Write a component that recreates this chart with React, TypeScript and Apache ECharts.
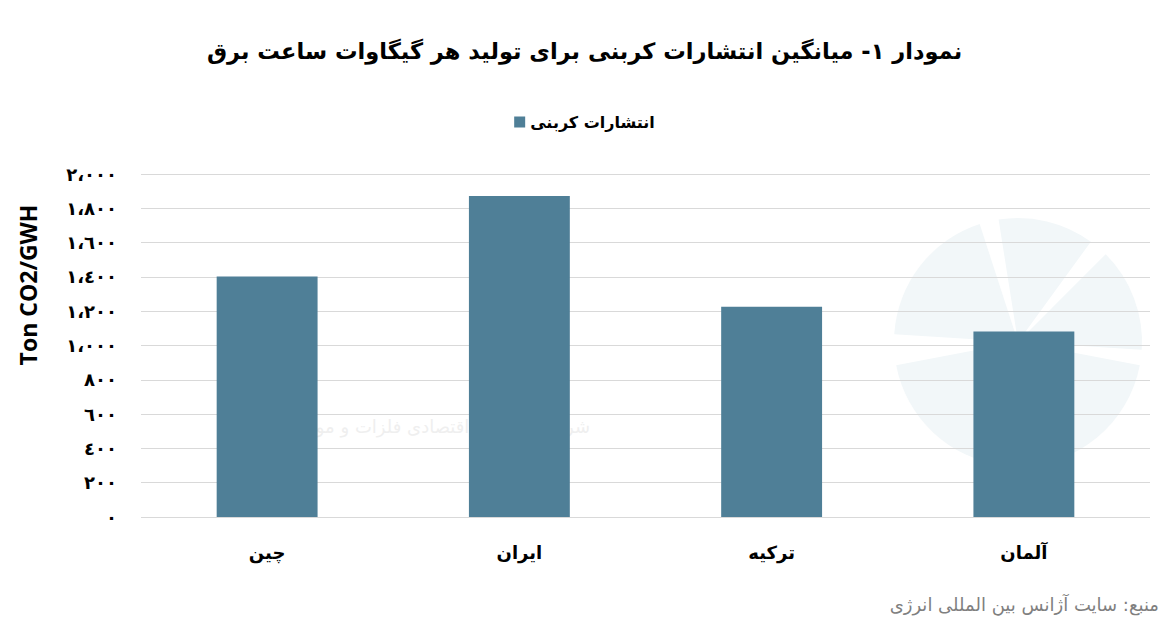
import React, { useEffect, useRef } from "react";
import * as echarts from "echarts";

const categories = ["چین", "ایران", "ترکیه", "آلمان"];
const seriesName = "انتشارات کربنی";
const values = [1403, 1872, 1226, 1082];
const titleText = "نمودار ۱- میانگین انتشارات کربنی برای تولید هر گیگاوات ساعت برق";
const yAxisTitle = "Ton CO2/GWH";
const sourceText = "منبع: سایت آژانس بین المللی انرژی";
const watermarkText = "شرکت مشاوره اقتصادی فلزات و مواد آرمان";

const arabicDigits = "٠١٢٣٤٥٦٧٨٩";
function toArabic(v: number): string {
  const s = Math.round(v).toString().replace(/\B(?=(\d{3})+(?!\d))/g, "،");
  return s.replace(/\d/g, (d) => arabicDigits[Number(d)]);
}

const FA = "DejaVu Sans";

export default function App() {
  const ref = useRef<HTMLDivElement>(null);
  useEffect(() => {
    if (!ref.current) return;
    const chart = echarts.init(ref.current, null, { renderer: "svg" });
    const wmColor = "#f2f7f9";
    const cx = 1018;
    const cy = 342;
    const R = 124;
    const sec = (a: number, b: number) => ({
      type: "sector",
      shape: { cx, cy, r0: 0, r: R, startAngle: a * Math.PI, endAngle: b * Math.PI },
      style: { fill: wmColor },
    });
    chart.setOption({
      animation: false,
      title: {
        text: titleText,
        left: "center",
        top: 34,
        textStyle: { fontFamily: FA, fontWeight: "bold", fontSize: 22.5, color: "#000" },
      },
      legend: {
        data: [seriesName],
        top: 109,
        left: "center",
        icon: "rect",
        itemWidth: 11,
        itemHeight: 11,
        itemGap: 6,
        textStyle: { fontFamily: FA, fontWeight: "bold", fontSize: 16, color: "#000" },
      },
      grid: { left: 141, right: 19, top: 174, bottom: 112, containLabel: false },
      xAxis: {
        type: "category",
        data: categories,
        axisLine: { show: false },
        axisTick: { show: false },
        axisLabel: {
          margin: 26,
          fontFamily: FA,
          fontWeight: "bold",
          fontSize: 18,
          color: "#000",
        },
      },
      yAxis: {
        type: "value",
        min: 0,
        max: 2000,
        interval: 200,
        axisLine: { show: false },
        axisTick: { show: false },
        splitLine: { lineStyle: { color: "#d9d9d9", width: 1 } },
        axisLabel: {
          margin: 24,
          fontFamily: FA,
          fontWeight: "bold",
          fontSize: 18,
          color: "#000",
          formatter: (v: number) => toArabic(v),
        },
      },
      graphic: [
        {
          type: "group",
          z: -10,
          silent: true,
          children: [
            sec(-0.98, -0.6),
            sec(-0.55, -0.3),
            sec(-0.25, 0.02),
            sec(0.06, 0.5),
            sec(0.54, 0.94),
          ],
        },
        {
          type: "text",
          z: -10,
          silent: true,
          x: 590,
          y: 426,
          style: {
            text: watermarkText,
            fontFamily: FA,
            fontSize: 18,
            fill: "#efefef",
            align: "right",
            verticalAlign: "middle",
          },
        },
        {
          type: "text",
          x: 28,
          y: 285,
          rotation: Math.PI / 2,
          style: {
            text: yAxisTitle,
            fontFamily: "Open Sans",
            fontWeight: "bold",
            fontSize: 23,
            fill: "#000",
            align: "center",
            verticalAlign: "middle",
          },
        },
        {
          type: "text",
          x: 1159,
          y: 604,
          style: {
            text: sourceText,
            fontFamily: FA,
            fontSize: 18,
            fill: "#7f7f7f",
            align: "right",
            verticalAlign: "middle",
          },
        },
      ],
      series: [
        {
          name: seriesName,
          type: "bar",
          data: values,
          barCategoryGap: "60%",
          itemStyle: { color: "#4f7f97" },
        },
      ],
    });
    return () => chart.dispose();
  }, []);
  return (
    <div style={{ position: "relative", width: 1169, height: 629, margin: -8, background: "#fff" }}>
      <div
        style={{
          position: "absolute",
          left: 6,
          top: 6,
          width: 1157,
          height: 616,
          border: "1px solid #d4d4d4",
          pointerEvents: "none",
        }}
      />
      <div ref={ref} style={{ position: "absolute", left: 0, top: 0, width: 1169, height: 629 }} />
    </div>
  );
}
